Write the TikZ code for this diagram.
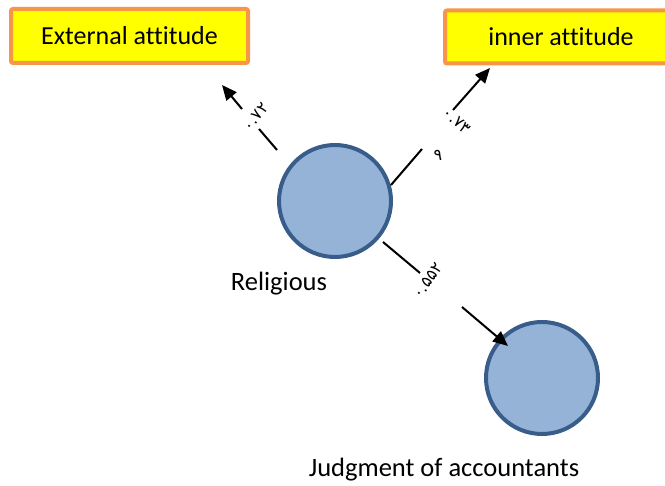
\documentclass[tikz,border=0pt]{standalone}
\usepackage{fontspec}
\setmainfont[Ligatures=NoCommon]{Carlito}
\newfontfamily\arabicfont[Script=Arabic]{DejaVu Sans}
\usetikzlibrary{arrows.meta}
\definecolor{boxfill}{HTML}{FFFF00}
\definecolor{boxline}{HTML}{F79646}
\definecolor{circfill}{HTML}{95B3D7}
\definecolor{circline}{HTML}{385D8A}
\tikzset{
  box/.style={draw=boxline, fill=boxfill, line width=4pt, rounded corners=2pt, font=\fontsize{26}{30}\selectfont, inner sep=0pt},
  circ/.style={circle, draw=circline, fill=circfill, line width=4pt, minimum size=112pt, inner sep=0pt},
  lab/.style={font=\fontsize{26.5}{30}\selectfont, inner sep=0pt},
  num/.style={font=\arabicfont\fontsize{16}{19}\selectfont, inner sep=0pt},
  seg/.style={line width=2pt},
  arr/.style={line width=2pt, -{Triangle[length=15pt,width=13pt]}}
}
\begin{document}
\begin{tikzpicture}[x=1pt,y=-1pt]
\useasboundingbox (0,0) rectangle (665,486);
\node[box, minimum width=237pt, minimum height=54pt] (ext) at (129.5,36) {External attitude};
\node[box, minimum width=232pt, minimum height=53pt] (inn) at (561,37) {inner attitude};
\node[circ] (rel) at (335,201) {};
\node[circ] (jud) at (542,378) {};
\node[lab] (rellab) at (279,284) {Religious};
\node[lab] (judlab) at (444,470) {Judgment of accountants};
% left connector
\coordinate (l1) at (277,150);
\coordinate (l2) at (259,129);
\coordinate (l3) at (242,109);
\coordinate (l4) at (222,85);
\draw[seg] (l1) -- (l2);
\draw[arr] (l3) -- (l4);
\node[num, rotate=52] (lnum) at (256,117) {۰.۷۲};
% upper right connector
\coordinate (r1) at (391,185);
\coordinate (r2) at (422,149);
\coordinate (r3) at (453,110);
\coordinate (r4) at (490,68);
\draw[seg] (r1) -- (r2);
\draw[arr] (r3) -- (r4);
\node[num, rotate=-40] (rnum) at (457,121) {۰.۷۳};
\node[num] (rnum2) at (438,155) {۹};
% bottom connector
\coordinate (b1) at (383,242);
\coordinate (b2) at (420,273);
\coordinate (b3) at (462,307);
\coordinate (b4) at (508,346);
\draw[seg] (b1) -- (b2);
\draw[arr] (b3) -- (b4);
\node[num, rotate=54] (bnum) at (428,281) {۰.۵۵۲};
\end{tikzpicture}
\end{document}
